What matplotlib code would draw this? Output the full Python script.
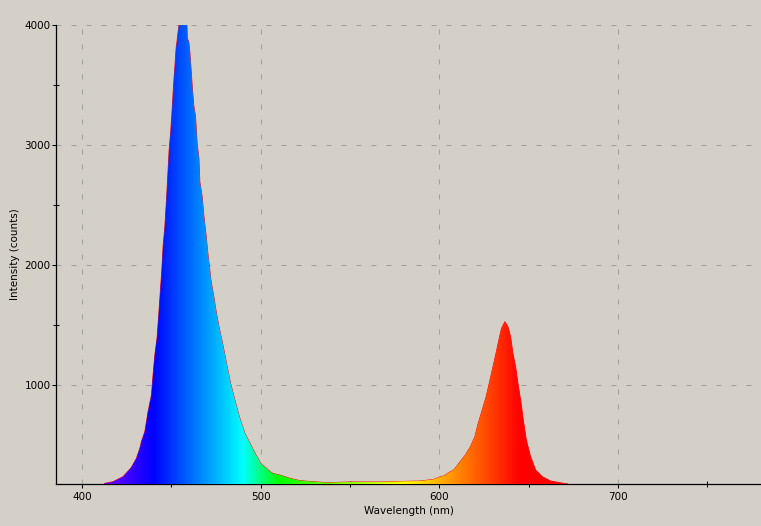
import numpy as np
import matplotlib.pyplot as plt
from matplotlib.patches import Polygon

# spectrum (nm, counts)
wavelength = [412.5, 417.4, 423.0, 427.7, 430.5, 432.4, 433.3, 435.2, 437.0, 438.9,
              439.8, 440.8, 442.1, 443.6, 444.7, 445.4, 446.4, 447.3, 448.1, 448.8,
              449.6, 450.3, 451.0, 451.6, 452.2, 452.7, 453.3, 453.8, 454.8, 456.0,
              457.5, 458.7, 459.0, 459.8, 460.4, 461.0, 461.9, 462.6, 463.6, 464.5,
              465.5, 466.0, 467.3, 468.3, 469.4, 470.5, 471.6, 472.2, 473.5, 475.0,
              476.7, 479.1, 481.3, 483.2, 485.6, 488.1, 491.2, 494.1, 496.9, 500.1,
              503.4, 505.3, 507.1, 510.9, 516.5, 522.1, 529.6, 537.1, 550.1, 567.0,
              580.0, 589.4, 596.9, 600.6, 602.5, 606.2, 608.1, 610.9, 614.6, 617.4,
              619.9, 621.5, 624.0, 626.2, 627.7, 629.6, 631.5, 633.3, 634.8, 636.7,
              638.4, 639.9, 641.2, 642.7, 644.0, 645.5, 647.0, 648.7, 651.1, 653.9,
              657.6, 662.3, 669.8, 672.0]
counts = [180, 194, 236, 314, 389, 472, 528, 611, 778, 917,
          1083, 1250, 1403, 1722, 1958, 2153, 2319, 2542, 2764, 2958,
          3097, 3250, 3430, 3569, 3694, 3806, 3875, 3944, 4050, 4060,
          4060, 4050, 3889, 3861, 3778, 3653, 3458, 3330, 3236, 3014,
          2889, 2694, 2569, 2403, 2264, 2097, 1958, 1875, 1764, 1625,
          1487, 1320, 1153, 1014, 875, 736, 597, 513, 430, 346,
          304, 278, 262, 249, 222, 203, 194, 186, 192, 192,
          197, 200, 214, 236, 242, 278, 292, 347, 417, 486,
          569, 667, 792, 903, 1000, 1125, 1250, 1375, 1472, 1528,
          1486, 1403, 1264, 1153, 1014, 875, 708, 542, 403, 292,
          236, 200, 180, 175]

x_ticks = [400, 500, 600, 700]
x_minor = [450, 550, 650, 750]
y_ticks = [1000, 2000, 3000, 4000]
y_minor = [1500, 2500, 3500]

bg = '#d4d0c8'


def spectrum_rgb(w):
    # classic wavelength -> rgb ramp
    w = np.asarray(w, dtype=float)
    r = np.zeros_like(w); g = np.zeros_like(w); b = np.zeros_like(w)
    m = w < 440
    r[m] = (440 - w[m]) / 60; b[m] = 1
    m = (w >= 440) & (w < 490)
    g[m] = (w[m] - 440) / 50; b[m] = 1
    m = (w >= 490) & (w < 510)
    g[m] = 1; b[m] = (510 - w[m]) / 20
    m = (w >= 510) & (w < 580)
    r[m] = (w[m] - 510) / 70; g[m] = 1
    m = (w >= 580) & (w < 645)
    r[m] = 1; g[m] = (645 - w[m]) / 65
    m = w >= 645
    r[m] = 1
    return np.clip(np.stack([r, g, b], axis=-1), 0, 1)


plt.rcParams['lines.scale_dashes'] = False
plt.rcParams['font.family'] = 'DejaVu Sans'

fig = plt.figure(figsize=(7.61, 5.26), dpi=100, facecolor=bg)
ax = fig.add_axes([56 / 761, 42 / 526, 705 / 761, 459 / 526])
ax.set_facecolor(bg)

xmin, xmax = 385.5, 780

# outline + gradient fill clipped to the spectrum
verts = np.column_stack([np.r_[wavelength[0], wavelength, wavelength[-1]],
                         np.r_[0, counts, 0]])
patch = Polygon(verts, closed=True, fc='none', ec='#ff0000', lw=0.6, zorder=2)
ax.add_patch(patch)
xs = np.linspace(xmin, xmax, 800)
im = ax.imshow(spectrum_rgb(xs)[None, :, :], extent=(xmin, xmax, 0, 4200),
               aspect='auto', interpolation='nearest', zorder=3)
im.set_clip_path(patch)

ax.set_xlim(xmin, xmax)
ax.set_ylim(175, 4000)

ax.set_xticks(x_ticks)
ax.set_xticks(x_minor, minor=True)
ax.set_yticks(y_ticks)
ax.set_yticks(y_minor, minor=True)
ax.tick_params(which='major', direction='out', length=3, width=0.75,
               labelsize=7.5, pad=1, colors='black')
ax.tick_params(which='minor', direction='inout', length=5, width=0.75)
ax.tick_params(axis='x', which='major', pad=3)

ax.grid(True, which='major', color='#a0a09c', linestyle=(0, (3.6, 7.2)), lw=0.75)
ax.set_axisbelow(True)

for s in ['top', 'right']:
    ax.spines[s].set_visible(False)
for s in ['left', 'bottom']:
    ax.spines[s].set_linewidth(0.9)
    ax.spines[s].set_color('black')

ax.set_xlabel('Wavelength (nm)', fontsize=7.5, labelpad=3)
ax.set_ylabel('Intensity (counts)', fontsize=7.5, labelpad=3)

fig.savefig('out.png', dpi=100, facecolor=bg)
